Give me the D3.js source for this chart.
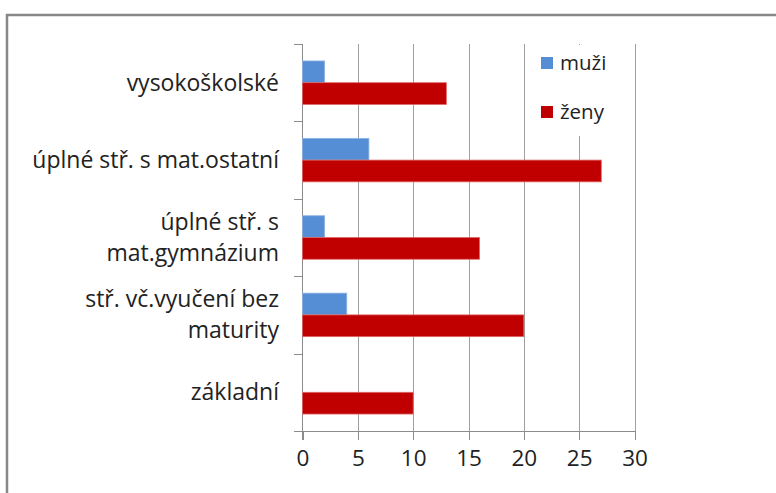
<!DOCTYPE html>
<meta charset="utf-8">
<head>
	<style type="text/css">
		body { margin: 0; background: #fff; }
		text { font-family: "Open Sans", "Noto Sans", sans-serif; fill: #222; }
		.grid line { stroke: #a0a0a0; shape-rendering: crispEdges; }
		.axis path, .axis line { fill: none; stroke: #8c8c8c; shape-rendering: crispEdges; }
	</style>
	<title>Vzdělání</title>
</head>
<script src="https://cdn.jsdelivr.net/npm/d3@7"></script>
<svg width="776" height="493" id="svg1"></svg>

<script>
	// data, top to bottom
	const categories = ["vysokoškolské", "úplné stř. s mat.ostatní", "úplné stř. s mat.gymnázium", "stř. vč.vyučení bez maturity", "základní"];
	const labelLines = [["vysokoškolské"], ["úplné stř. s mat.ostatní"], ["úplné stř. s", "mat.gymnázium"], ["stř. vč.vyučení bez", "maturity"], ["základní"]];
	const series = ["muži", "ženy"];
	const muzi = [2, 6, 2, 4, 0];
	const zeny = [13, 27, 16, 20, 10];
	const xTicks = [0, 5, 10, 15, 20, 25, 30];
	const colors = ["#558ed5", "#c00000"];
	const strokes = ["#8db3e2", "#e06666"];

	const svg1 = d3.select('#svg1');

	// outer frame
	svg1.append('rect')
		.attr('x', 7).attr('y', 15)
		.attr('width', 800).attr('height', 500)
		.attr('fill', 'none')
		.attr('stroke', '#888')
		.attr('stroke-width', 2.5);

	const plot = { left: 302.5, right: 634.5, top: 44, bottom: 431 };

	const xScale = d3.scaleLinear()
		.domain([0, 30])
		.range([plot.left, plot.right]);

	const yScale = d3.scaleBand()
		.domain(categories)
		.range([plot.top, plot.bottom]);

	const ySub = d3.scaleBand()
		.domain(series)
		.range([0, yScale.bandwidth()])
		.paddingInner(0)
		.paddingOuter(0.78);

	// gridlines
	svg1.append('g')
		.attr('class', 'grid')
		.selectAll('line')
		.data(xTicks.slice(1))
		.enter().append('line')
			.attr('x1', d => Math.round(xScale(d)) + 0.5)
			.attr('x2', d => Math.round(xScale(d)) + 0.5)
			.attr('y1', plot.top)
			.attr('y2', plot.bottom);

	// x axis
	const xAxis = d3.axisBottom(xScale)
		.tickValues(xTicks)
		.tickSize(9)
		.tickSizeOuter(0)
		.tickPadding(10);

	const xAxisG = svg1.append('g')
		.attr('class', 'axis')
		.attr('transform', `translate(0,${plot.bottom})`)
		.call(xAxis);
	xAxisG.select('.domain').remove();
	xAxisG.append('line')
		.attr('x1', plot.left - 9).attr('x2', plot.right)
		.attr('y1', 0.5).attr('y2', 0.5);
	xAxisG.selectAll('text')
		.attr('font-size', '22.5px')
		.attr('fill', '#222');

	// y axis: line plus ticks at category boundaries
	const bounds = categories.map(c => yScale(c)).concat([plot.bottom]);
	const yAxisG = svg1.append('g').attr('class', 'axis');
	yAxisG.append('line')
		.attr('x1', plot.left).attr('x2', plot.left)
		.attr('y1', plot.top).attr('y2', plot.bottom + 9);
	yAxisG.selectAll('.ytick')
		.data(bounds)
		.enter().append('line')
			.attr('class', 'ytick')
			.attr('x1', plot.left - 9).attr('x2', plot.left)
			.attr('y1', d => Math.round(d) + 0.5)
			.attr('y2', d => Math.round(d) + 0.5);

	// category labels
	const lab = svg1.append('g').selectAll('text')
		.data(categories)
		.enter().append('text')
			.attr('text-anchor', 'end')
			.attr('font-size', '23px')
			.attr('x', 279)
			.attr('y', d => yScale(d) + yScale.bandwidth() / 2 + 8);
	lab.each(function(d, i) {
		const lines = labelLines[i];
		const t = d3.select(this);
		lines.forEach((ln, j) => {
			t.append('tspan')
				.attr('x', 279)
				.attr('dy', j === 0 ? -(lines.length - 1) * 15.5 : 31)
				.text(ln);
		});
	});

	// bars
	const rows = categories.map((c, i) => ({ cat: c, values: [muzi[i], zeny[i]] }));
	const groups = svg1.append('g').selectAll('g')
		.data(rows)
		.enter().append('g')
			.attr('transform', d => `translate(0,${yScale(d.cat)})`);

	groups.selectAll('rect')
		.data(d => d.values.map((v, k) => ({ s: series[k], k: k, v: v })))
		.enter().append('rect')
			.attr('x', xScale(0))
			.attr('y', d => ySub(d.s))
			.attr('width', d => xScale(d.v) - xScale(0))
			.attr('height', ySub.bandwidth())
			.attr('fill', d => colors[d.k])
			.attr('stroke', d => d.v > 0 ? strokes[d.k] : 'none')
			.attr('stroke-width', 0.8);

	// legend
	const legend = svg1.append('g');
	legend.append('rect')
		.attr('x', 530).attr('y', plot.top + 1)
		.attr('width', 98).attr('height', 91)
		.attr('fill', '#fff');
	const item = legend.selectAll('.item')
		.data(series)
		.enter().append('g')
			.attr('class', 'item')
			.attr('transform', (d, i) => `translate(541,${57 + i * 49})`);
	item.append('rect')
		.attr('width', 12).attr('height', 12)
		.attr('fill', (d, i) => colors[i]);
	item.append('text')
		.attr('x', 19)
		.attr('y', 13)
		.attr('font-size', '20.5px')
		.text(d => d);
</script>
